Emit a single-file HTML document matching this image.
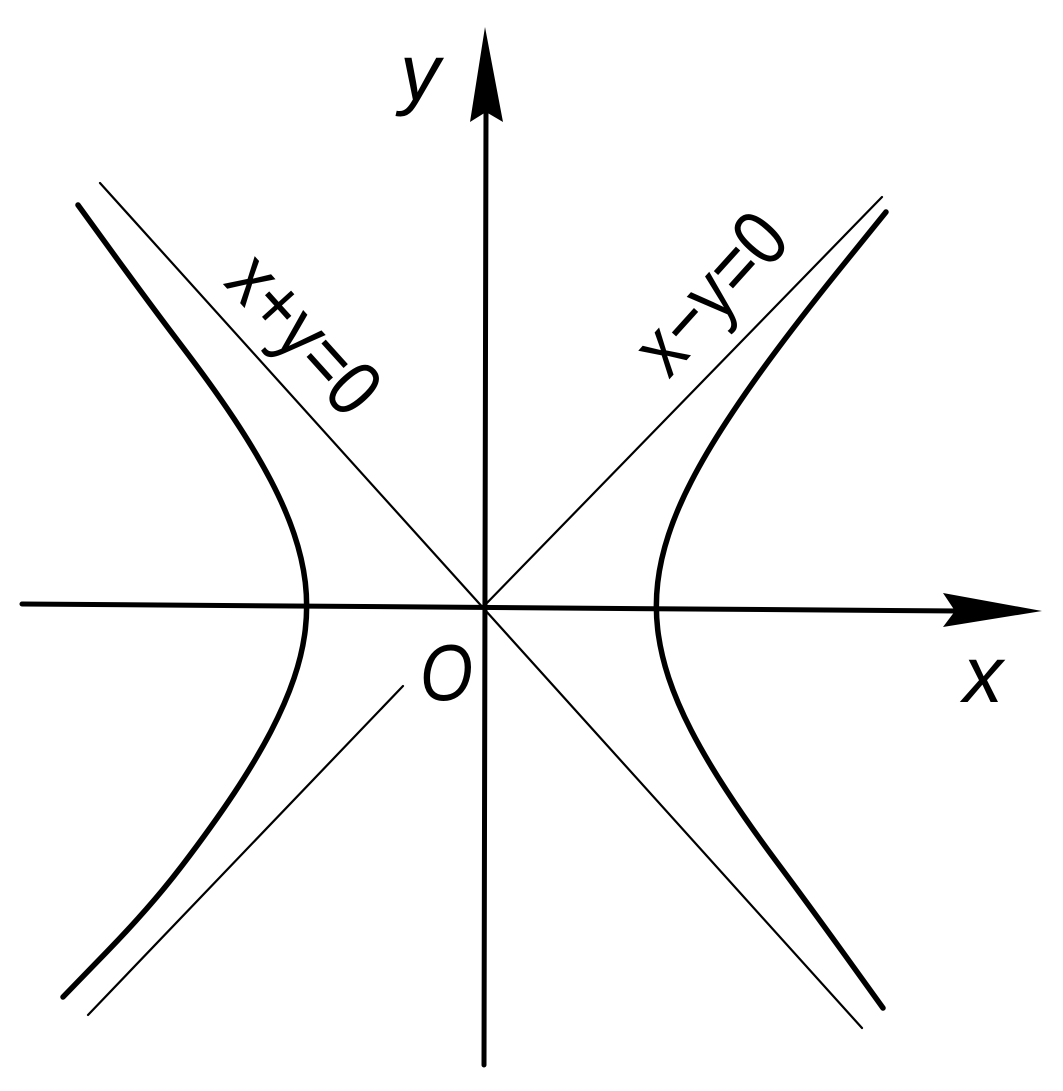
<!DOCTYPE html>
<html><head><style>html,body{margin:0;padding:0;background:#fff}svg{display:block}</style></head>
<body>
<svg width="1063" height="1091" viewBox="0 0 1063 1091" xmlns="http://www.w3.org/2000/svg">
<g stroke="#000" fill="none" stroke-linecap="round" stroke-linejoin="round">
<line x1="22" y1="604" x2="960" y2="611" stroke-width="5"/>
<line x1="484" y1="1065" x2="486" y2="110" stroke-width="5"/>
<line x1="100" y1="183" x2="862" y2="1028" stroke-width="2.2"/>
<line x1="882" y1="197" x2="484" y2="606" stroke-width="2.2"/>
<line x1="403" y1="686" x2="88" y2="1015" stroke-width="2.2"/>
<path stroke-width="5.5" d="M886,212 L846.5,260.8 Q806.9,309.6 777.4,349.1 Q747.9,388.6 726.7,421.3 Q705.4,453.9 691.1,481.8 Q676.8,509.6 668.6,534.5 Q660.4,559.3 657.7,582.7 Q655,606 657.7,629.4 Q660.4,652.7 668.6,677.6 Q676.8,702.4 691.1,730.3 Q705.4,758.1 726.7,790.8 Q747.9,823.4 777.4,862.9 Q806.9,902.4 845,955.2 L883,1008"/>
<path stroke-width="5.5" d="M78,205 L114.8,255.7 Q151.6,306.4 182,346.3 Q212.4,386.2 234.3,419.2 Q256.1,452.2 270.8,480.4 Q285.5,508.6 294,533.7 Q302.5,558.8 305.3,582.4 Q308,606 305.3,629.6 Q302.5,653.2 294,678.3 Q285.5,703.4 270.8,731.6 Q256.1,759.8 234.3,792.8 Q212.4,825.8 182,865.7 Q151.6,905.6 107.3,951.3 L63,997"/>
</g>
<polygon points="1042,611 943,593 955,611 943,627" fill="#000"/>
<polygon points="485,27 470,122 486,112 503,122" fill="#000"/>
<g font-family="Liberation Sans, sans-serif" font-style="italic" fill="#000">
<text x="400" y="100" font-size="80">y</text>
<text x="963" y="702" font-size="80">x</text>
<text transform="translate(420,700) scale(0.85,1)" font-size="80">O</text>
<text transform="translate(300,338) rotate(48) scale(0.85,1)" text-anchor="middle" dominant-baseline="middle" font-style="normal" font-size="80">x+y=0</text>
<text transform="translate(715,297) rotate(-48) scale(0.85,1)" text-anchor="middle" dominant-baseline="middle" font-style="normal" font-size="80">x−y=0</text>
</g>
</svg>
</body></html>
